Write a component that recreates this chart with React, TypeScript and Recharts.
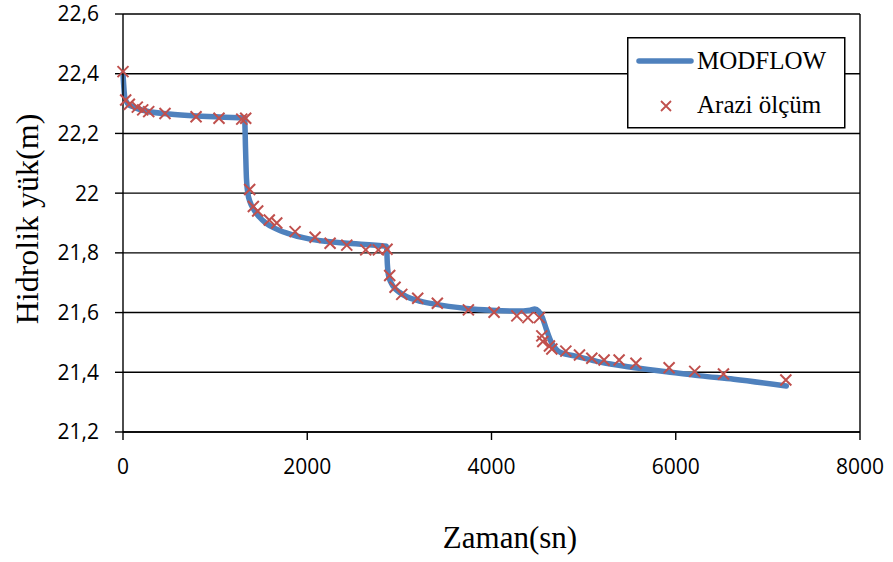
import {
  CartesianGrid,
  ComposedChart,
  Line,
  ReferenceLine,
  Scatter,
  XAxis,
  YAxis,
} from 'recharts'

// MODFLOW model curve (time in s, head in m)
const modelTime = [
  0, 20, 50, 120, 250, 500, 800, 1100, 1320, 1330, 1340, 1355, 1380, 1420,
  1480, 1550, 1650, 1780, 2030, 2400, 2860, 2870, 2885, 2935, 3000, 3080,
  3200, 3370, 3730, 4000, 4275, 4420, 4470, 4510, 4550, 4600, 4650, 4700,
  4750, 4900, 5180, 5500, 5900, 6265, 6630, 7200,
]
const modelHead = [
  22.4, 22.32, 22.3, 22.288, 22.275, 22.265, 22.258, 22.254, 22.252, 22.15,
  22.05, 22.0, 21.97, 21.945, 21.92, 21.9, 21.882, 21.866, 21.846, 21.833,
  21.822, 21.76, 21.72, 21.687, 21.668, 21.653, 21.64, 21.629, 21.614,
  21.608, 21.605, 21.608, 21.612, 21.605, 21.585, 21.54, 21.5, 21.478,
  21.466, 21.455, 21.434, 21.418, 21.402, 21.388, 21.377, 21.354,
]

// field measurements
const fieldTime = [
  0, 29, 69, 155, 214, 279, 456, 793, 1042, 1289, 1332, 1375, 1415, 1462,
  1588, 1669, 1868, 2085, 2248, 2429, 2635, 2772, 2866, 2895, 2953, 3026,
  3199, 3412, 3749, 4028, 4275, 4395, 4520, 4546, 4557, 4629, 4655, 4807,
  4955, 5089, 5222, 5385, 5568, 5928, 6206, 6518, 7195,
]
const fieldHead = [
  22.407, 22.312, 22.298, 22.288, 22.279, 22.273, 22.267, 22.256, 22.251,
  22.248, 22.251, 22.012, 21.955, 21.94, 21.91, 21.9, 21.871, 21.852,
  21.832, 21.826, 21.81, 21.81, 21.812, 21.724, 21.685, 21.661, 21.648,
  21.631, 21.609, 21.601, 21.589, 21.583, 21.583, 21.522, 21.503, 21.488,
  21.478, 21.471, 21.458, 21.447, 21.441, 21.441, 21.43, 21.415, 21.403,
  21.394, 21.374,
]

const xTicks = [0, 2000, 4000, 6000, 8000]
const yTicks = [21.2, 21.4, 21.6, 21.8, 22, 22.2, 22.4, 22.6]

const modelData = modelTime.map((x, i) => ({ x, y: modelHead[i] }))
const fieldData = fieldTime.map((x, i) => ({ x, y: fieldHead[i] }))

const BLUE = '#4F81BD'
const RED = '#C0504D'
const tickFont = { fontFamily: 'Open Sans', fontSize: 21, fill: '#000' }
const serif = 'Liberation Serif'

function Cross(props: any) {
  const { cx, cy } = props
  if (cx == null || cy == null) return null
  const s = 5.5
  return (
    <path
      d={`M${cx - s},${cy - s}L${cx + s},${cy + s}M${cx - s},${cy + s}L${cx + s},${cy - s}`}
      stroke={RED}
      strokeWidth={2}
      fill='none'
    />
  )
}

// axis titles and legend drawn in an overlay so they keep the serif face
function Overlay() {
  return (
    <svg
      width={893}
      height={562}
      style={{ position: 'absolute', left: 0, top: 0, pointerEvents: 'none' }}
    >
      <text x={510} y={548} textAnchor='middle' fontFamily={serif} fontSize={31} fill='#000'>
        Zaman(sn)
      </text>
      <text
        x={38}
        y={219}
        textAnchor='middle'
        transform='rotate(-90, 38, 219)'
        fontFamily={serif}
        fontSize={32}
        fill='#000'
      >
        Hidrolik yük(m)
      </text>
      <g transform='translate(627, 37)'>
        <rect x={0.75} y={0.75} width={217} height={90} fill='#fff' stroke='#000' strokeWidth={1.5} />
        <line x1={12} y1={24} x2={64} y2={24} stroke={BLUE} strokeWidth={5.5} strokeLinecap='round' />
        <text x={70} y={32} fontFamily={serif} fontSize={25} fill='#000'>
          MODFLOW
        </text>
        <path d='M34,64L44,74M34,74L44,64' stroke={RED} strokeWidth={1.8} />
        <text x={70} y={76} fontFamily={serif} fontSize={25} fill='#000'>
          Arazi ölçüm
        </text>
      </g>
    </svg>
  )
}

export default function App() {
  return (
    <div style={{ position: 'absolute', left: 0, top: 0, width: 893, height: 562, background: '#fff' }}>
      <ComposedChart
        width={893}
        height={562}
        margin={{ top: 14, right: 33, left: 0, bottom: 0 }}
      >
        <CartesianGrid vertical={false} stroke='#000' strokeWidth={1.4} />
        <XAxis
          type='number'
          dataKey='x'
          domain={[0, 8000]}
          ticks={xTicks}
          height={130}
          tickSize={8}
          tickMargin={19}
          tick={tickFont}
          stroke='#000'
          strokeWidth={1.4}
        />
        <YAxis
          type='number'
          dataKey='y'
          domain={[21.2, 22.6]}
          ticks={yTicks}
          width={123}
          tickSize={8}
          tickMargin={16}
          tick={tickFont}
          stroke='#000'
          strokeWidth={1.4}
          tickFormatter={(v) => String(Math.round(Number(v) * 10) / 10).replace('.', ',')}
        />
        <ReferenceLine x={8000} stroke='#000' strokeWidth={1.4} />
        <Line
          data={modelData}
          dataKey='y'
          type='monotone'
          stroke={BLUE}
          strokeWidth={5.5}
          strokeLinecap='round'
          strokeLinejoin='round'
          dot={false}
          activeDot={false}
          isAnimationActive={false}
        />
        <Scatter
          data={fieldData}
          dataKey='y'
          shape={<Cross />}
          isAnimationActive={false}
        />
      </ComposedChart>
      <Overlay />
    </div>
  )
}
